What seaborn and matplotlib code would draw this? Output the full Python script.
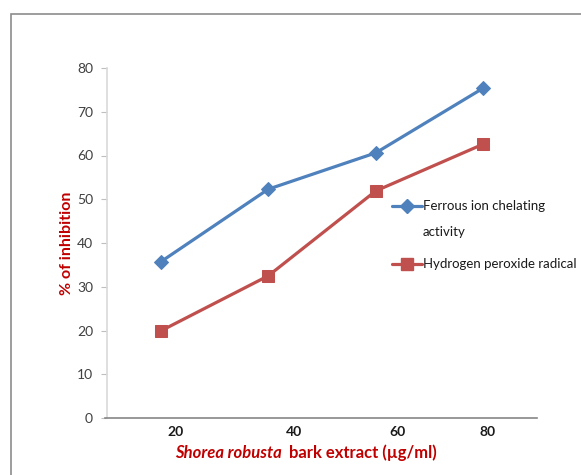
import matplotlib
matplotlib.use("Agg")
import matplotlib.pyplot as plt
from matplotlib.patches import Rectangle
from matplotlib.lines import Line2D
import seaborn as sns
import pandas as pd
import numpy as np

# =========================
# DATA
# =========================
concentrations = ["20", "40", "60", "80"]
ferrous_chelating = [35.7, 52.3, 60.6, 75.4]
hydrogen_peroxide = [19.9, 32.5, 51.9, 62.6]
series_names = ["Ferrous ion chelating\nactivity", "Hydrogen peroxide radical"]

BLUE = "#4F81BD"
RED = "#C0504D"
LABEL_RED = "#C00000"

sns.set_theme(style="white")
plt.rcParams['font.family'] = ['Lato', 'DejaVu Sans']

df = pd.DataFrame({
    "pos": np.arange(len(concentrations)),
    "ferrous": ferrous_chelating,
    "h2o2": hydrogen_peroxide,
})

W, H = 581, 475
fig = plt.figure(figsize=(W / 100, H / 100), dpi=100)
ax = fig.add_axes([107 / W, 1 - 418 / H, 430 / W, 350 / H])

# outer chart border (clipped at right and bottom like the reference)
fig.patches.append(Rectangle((11 / W, -0.1), 1.2, 1 - 14 / H + 0.1,
                             transform=fig.transFigure, fill=False,
                             edgecolor="#8c8c8c", linewidth=1.2))

styles = [dict(color=BLUE, marker="D", markersize=7), dict(color=RED, marker="s", markersize=8)]
for col, st in zip(["ferrous", "h2o2"], styles):
    sns.lineplot(data=df, x="pos", y=col, ax=ax, color=st["color"], linewidth=2.3,
                 marker=st["marker"], markersize=st["markersize"],
                 markeredgecolor=st["color"], legend=False)

ax.set_xlim(-0.5, 3.5)
ax.set_ylim(0, 80)
ax.set_yticks(range(0, 81, 10))
ax.tick_params(axis="y", length=4, width=0.8, color="#bfbfbf", labelsize=10,
               labelcolor="#404040", pad=6, left=True)
# category labels sit a little right of the points in the original
ax.set_xticks([0.14, 1.24, 2.2, 3.04])
ax.set_xticklabels(concentrations, fontweight="bold", fontsize=10, color="#1a1a1a")
ax.tick_params(axis="x", length=0, pad=6)

for side in ["top", "right"]:
    ax.spines[side].set_visible(False)
ax.spines["left"].set_color("#d9d9d9")
ax.spines["left"].set_linewidth(1.2)
ax.spines["bottom"].set_color("#868686")
ax.spines["bottom"].set_linewidth(1.2)
ax.spines["bottom"].set_bounds(-0.52, 3.5)

ax.set_xlabel("")
ax.set_ylabel("% of inhibition", color=LABEL_RED, fontweight="bold", fontsize=11.5, labelpad=2)

# x axis title: italic species name + regular rest
t1 = fig.text(175 / W, 1 - 453 / H, "Shorea robusta", ha="left", va="center",
              color=LABEL_RED, fontsize=12, fontstyle="italic", fontweight="bold")
fig.canvas.draw()
bb = t1.get_window_extent()
fig.text((bb.x1 + 7) / W, 1 - 453 / H, "bark extract (µg/ml)", ha="left", va="center",
         color=LABEL_RED, fontsize=12, fontweight="bold")

# legend, Excel style: handle aligned with first text line
legend_rows = [(206, [206, 232]), (264, [264])]
for (hy, text_ys), st, name in zip(legend_rows, styles, series_names):
    fig.lines.append(Line2D([392 / W, 422 / W], [1 - hy / H] * 2, transform=fig.transFigure,
                            color=st["color"], linewidth=2.3))
    fig.lines.append(Line2D([407 / W], [1 - hy / H], transform=fig.transFigure,
                            color=st["color"], marker=st["marker"],
                            markersize=st["markersize"], markeredgecolor=st["color"]))
    for line, ty in zip(name.split("\n"), text_ys):
        fig.text(423 / W, 1 - ty / H, line, ha="left", va="center", fontsize=9.5,
                 color="#1a1a1a")

plt.savefig("out.png", dpi=100)
plt.close()
